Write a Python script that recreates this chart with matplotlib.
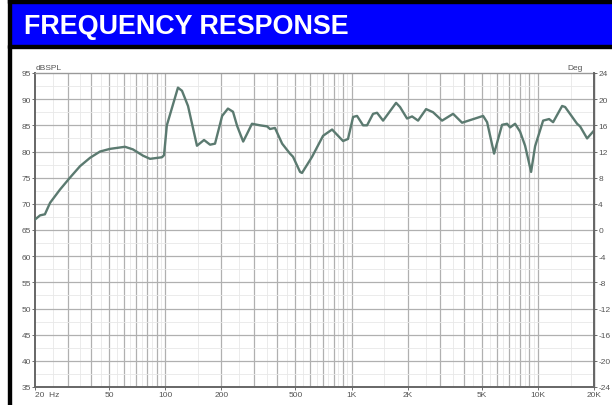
import matplotlib
matplotlib.use('Agg')
import matplotlib.pyplot as plt
from matplotlib.patches import Rectangle
from matplotlib.ticker import FixedLocator, NullFormatter

# frequency response (Hz, dB SPL)
freq = [20, 21.3, 22.6, 24.1, 27.2, 30.8, 34.9, 39.5, 44.7, 50.5, 60.8, 67.1,
        76, 82.9, 96.1, 98.5, 102, 117, 123, 132.5, 148, 161.5, 174, 185, 202,
        217, 231, 243, 262, 275, 292, 323, 352, 365, 388, 424, 467, 485, 529,
        542, 614, 703, 786, 900, 957, 1019, 1070, 1153, 1211, 1304, 1370, 1476,
        1570, 1733, 1820, 1985, 2112, 2274, 2511, 2738, 3060, 3506, 3918, 5080,
        5338, 5818, 6422, 6832, 7090, 7542, 8022, 8536, 9193, 9658, 10665,
        11482, 12066, 13488, 13996, 16228, 16842, 18366, 20000]
spl = [67.0, 67.8, 68.0, 70.2, 72.7, 75.0, 77.2, 78.8, 80.0, 80.5, 80.9, 80.4,
       79.2, 78.6, 78.9, 79.3, 85.0, 92.2, 91.6, 88.7, 81.1, 82.2, 81.3, 81.5,
       86.8, 88.2, 87.6, 84.9, 81.9, 83.4, 85.3, 85.0, 84.8, 84.3, 84.5, 81.5,
       79.6, 79.0, 76.1, 75.9, 79.0, 83.0, 84.2, 82.0, 82.4, 86.6, 86.8, 85.0,
       85.0, 87.2, 87.4, 85.9, 87.2, 89.3, 88.5, 86.3, 86.7, 85.9, 88.1, 87.5,
       85.9, 87.2, 85.5, 86.8, 85.6, 79.6, 85.1, 85.3, 84.6, 85.3, 83.8, 81.1,
       76.1, 81.0, 85.9, 86.2, 85.6, 88.7, 88.5, 85.3, 84.8, 82.5, 84.0]

x_ticks = [20, 50, 100, 200, 500, 1000, 2000, 5000, 10000, 20000]
x_labels = ['20  Hz', '50', '100', '200', '500', '1K', '2K', '5K', '10K', '20K']
db_ticks = list(range(35, 96, 5))
deg_ticks = list(range(-24, 25, 4))

W, H = 612, 406
plt.rcParams['font.family'] = ['Liberation Sans', 'DejaVu Sans']
plt.rcParams['axes.unicode_minus'] = False
fig = plt.figure(figsize=(W / 100, H / 100), dpi=100)


def px_rect(x, y, w, h, color):
    # rectangle given in pixels from top-left
    fig.patches.append(Rectangle((x / W, 1 - (y + h) / H), w / W, h / H,
                                 transform=fig.transFigure, color=color, zorder=0))


# header band and black frame
px_rect(11, 4, W - 11, 43, '#0000ff')
px_rect(8, 0, W - 8, 4, 'black')
px_rect(8, 46, W - 8, 3, 'black')
px_rect(8, 0, 3, H, 'black')
fig.text(24 / W, 1 - 27 / H, 'FREQUENCY RESPONSE', color='white',
         fontsize=19.4, fontweight='bold', va='center', ha='left')

ax = fig.add_axes([35 / W, (H - 388) / H, 559 / W, 314 / H])
ax.set_xscale('log')
ax.set_xlim(20, 20000)
ax.set_ylim(35, 95)

# grid
major_v = [m * 10 ** d for d in range(1, 5) for m in range(1, 10)]
major_v = [v for v in major_v if 20 < v < 20000]
minor_v = [(m + 0.5) * 10 ** d for d in range(1, 5) for m in range(1, 10)]
minor_v = [v for v in minor_v if 20 < v < 20000]
for v in minor_v:
    ax.axvline(v, color='#e8e8e8', lw=0.6, zorder=1)
for v in major_v:
    ax.axvline(v, color='#b0b0b0', lw=0.9, zorder=1)
for y in [35 + 2.5 * i for i in range(1, 24, 2)]:
    ax.axhline(y, color='#e8e8e8', lw=0.6, zorder=1)
for y in db_ticks[1:-1]:
    ax.axhline(y, color='#b0b0b0', lw=0.9, zorder=1)

ax.plot(freq, spl, color='#5b7a70', lw=1.7, zorder=3)

ax.xaxis.set_major_locator(FixedLocator(x_ticks))
ax.xaxis.set_minor_formatter(NullFormatter())
ax.xaxis.set_minor_locator(FixedLocator([]))
ax.set_xticklabels(x_labels)
ax.set_yticks(db_ticks)
ax.tick_params(axis='both', labelsize=6, colors='#555555', length=2, width=0.6, pad=1)
labs = ax.get_xticklabels()
labs[0].set_horizontalalignment('left')
for sp in ax.spines.values():
    sp.set_color('#666666')
    sp.set_linewidth(1.0)
ax.spines['top'].set_color('#999999')
ax.spines['left'].set_linewidth(1.4)
ax.spines['bottom'].set_linewidth(1.4)

ax2 = ax.twinx()
ax2.set_ylim(-24, 24)
ax2.set_yticks(deg_ticks)
ax2.tick_params(axis='y', labelsize=6, colors='#555555', length=2, width=0.6, pad=1)
ax2.spines['right'].set_color('#666666')
ax2.spines['right'].set_linewidth(1.4)
for s in ['top', 'left', 'bottom']:
    ax2.spines[s].set_visible(False)

fig.text(36 / W, 1 - 68 / H, 'dBSPL', fontsize=6, color='#555555', va='center')
fig.text(583 / W, 1 - 68 / H, 'Deg', fontsize=6, color='#555555', va='center', ha='right')

fig.savefig('out.png', dpi=100, facecolor='white')
